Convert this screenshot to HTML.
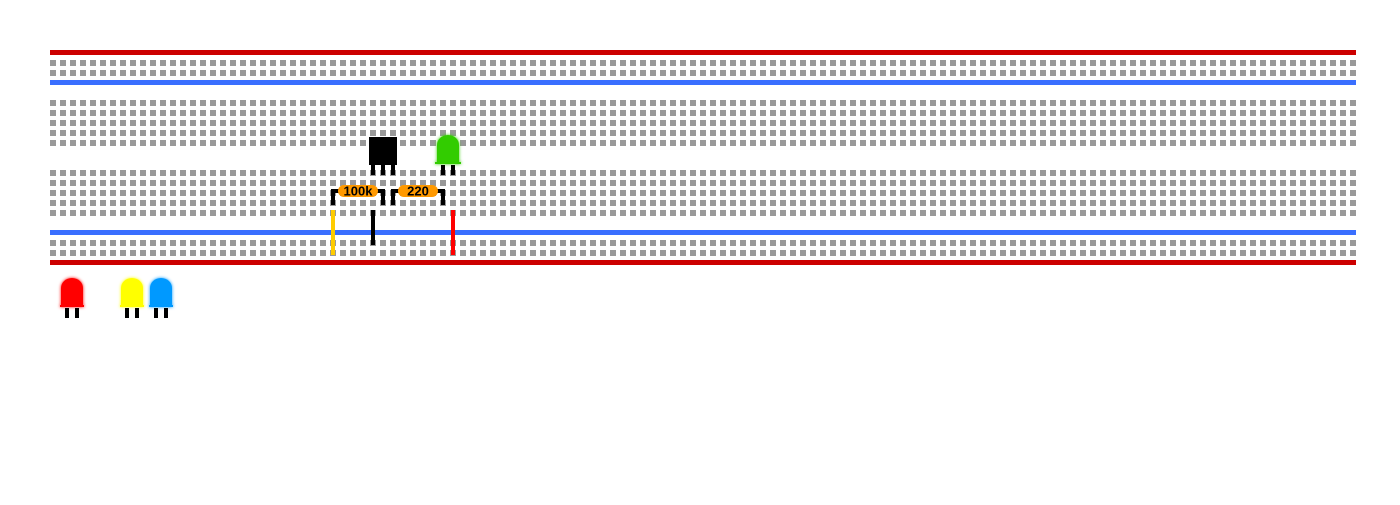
<!DOCTYPE html>
<html><head><style>body{margin:0;background:#fff;width:1400px;height:500px;overflow:hidden}</style></head><body>
<svg width="1400" height="500" xmlns="http://www.w3.org/2000/svg">
<defs>
<pattern id="d" x="50" y="0" width="10" height="10" patternUnits="userSpaceOnUse"><rect width="6" height="6" fill="#999"/></pattern>
<filter id="g" x="-50%" y="-50%" width="200%" height="200%"><feGaussianBlur stdDeviation="1.5" result="b"/><feMerge><feMergeNode in="b"/><feMergeNode in="SourceGraphic"/></feMerge></filter>
</defs>
<rect x="50" y="50" width="1306" height="5" fill="#cc0000"/>
<rect x="50" y="60" width="1306" height="16" fill="url(#d)"/>
<rect x="50" y="80" width="1306" height="5" fill="#3a6fff"/>
<rect x="50" y="100" width="1306" height="46" fill="url(#d)"/>
<rect x="50" y="170" width="1306" height="46" fill="url(#d)"/>
<rect x="50" y="230" width="1306" height="5" fill="#3a6fff"/>
<rect x="50" y="240" width="1306" height="16" fill="url(#d)"/>
<rect x="50" y="260" width="1306" height="5" fill="#cc0000"/>
<!-- transistor -->
<rect x="369" y="137" width="28" height="28" fill="#000"/>
<rect x="371" y="165" width="4" height="10" fill="#000"/><rect x="381" y="165" width="4" height="10" fill="#000"/><rect x="391" y="165" width="4" height="10" fill="#000"/>
<!-- green LED -->
<g filter="url(#g)"><path d="M437 163 V145 a11 10 0 0 1 22 0 V163 Z" fill="#33cc00"/><rect x="435" y="162" width="26" height="2" fill="#33cc00"/></g>
<rect x="441" y="165" width="4" height="10" fill="#000"/><rect x="451" y="165" width="4" height="10" fill="#000"/>
<!-- resistors -->
<g fill="none" stroke="#000" stroke-width="4"><path d="M333 205 V191 H342"/><path d="M374 191 H383 V205"/><path d="M393 205 V191 H402"/><path d="M434 191 H443 V205"/></g>
<rect x="338" y="185" width="40" height="12" rx="6" fill="#f90"/>
<rect x="398" y="185" width="40" height="12" rx="6" fill="#f90"/>
<text x="358" y="195.5" font-family="Liberation Sans,sans-serif" font-size="13" font-weight="bold" text-anchor="middle">100k</text>
<text x="418" y="195.5" font-family="Liberation Sans,sans-serif" font-size="13" font-weight="bold" text-anchor="middle">220</text>
<!-- wires -->
<rect x="331" y="210" width="4" height="45" fill="#ffcc00"/>
<rect x="371" y="210" width="4" height="35" fill="#000"/>
<rect x="451" y="210" width="4" height="45" fill="#ff0000"/>
<!-- loose LEDs -->
<g filter="url(#g)">
<path d="M61 307 V288 a11 10 0 0 1 22 0 V307 Z" fill="#ff0000"/><rect x="60" y="305" width="24" height="2" fill="#ff0000"/>
<path d="M121 307 V288 a11 10 0 0 1 22 0 V307 Z" fill="#ffff00"/><rect x="120" y="305" width="24" height="2" fill="#ffff00"/>
<path d="M150 307 V288 a11 10 0 0 1 22 0 V307 Z" fill="#0099ff"/><rect x="149" y="305" width="24" height="2" fill="#0099ff"/>
</g>
<g fill="#000"><rect x="65" y="308" width="4" height="10"/><rect x="75" y="308" width="4" height="10"/>
<rect x="125" y="308" width="4" height="10"/><rect x="135" y="308" width="4" height="10"/>
<rect x="154" y="308" width="4" height="10"/><rect x="164" y="308" width="4" height="10"/></g>
</svg>
</body></html>
